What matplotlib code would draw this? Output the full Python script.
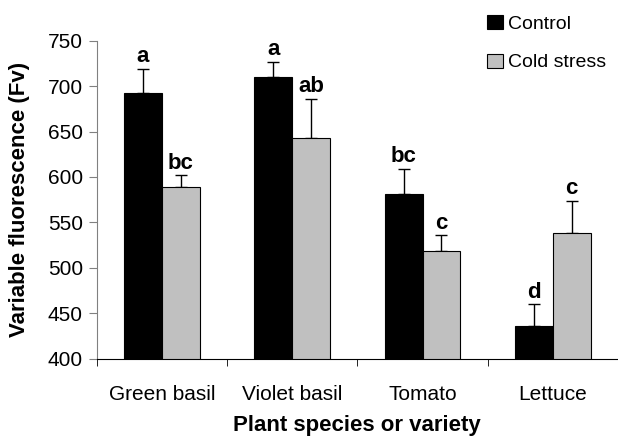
import matplotlib
matplotlib.use("Agg")
import matplotlib.pyplot as plt
import numpy as np

categories = ["Green basil", "Violet basil", "Tomato", "Lettuce"]
control = [692, 710, 581, 436]
control_err = [27, 17, 28, 24]
cold = [589, 643, 518, 538]
cold_err = [13, 43, 18, 36]
control_letters = ["a", "a", "bc", "d"]
cold_letters = ["bc", "ab", "c", "c"]

plt.rcParams['font.family'] = ['Liberation Sans', 'DejaVu Sans']

fig = plt.figure(figsize=(6.18, 4.38), dpi=100)
ax = fig.add_axes([96.7/618, 1-358.7/438, 1-96.7/618, (358.7-40.7)/438])

x = np.arange(len(categories))
w = 0.29
b1 = ax.bar(x - w/2, control, w, color='black', edgecolor='black', linewidth=0.8,
            label='Control', zorder=2)
b2 = ax.bar(x + w/2, cold, w, color='#C0C0C0', edgecolor='black', linewidth=0.8,
            label='Cold stress', zorder=2)
ax.errorbar(x - w/2, control, yerr=[np.zeros(4), control_err], fmt='none',
            ecolor='black', elinewidth=1, capsize=4, capthick=1, zorder=1)
ax.errorbar(x + w/2, cold, yerr=[np.zeros(4), cold_err], fmt='none',
            ecolor='black', elinewidth=1, capsize=4, capthick=1, zorder=1)

for xi, v, e, t in zip(x - w/2, control, control_err, control_letters):
    ax.annotate(t, (xi, v + e), xytext=(0, 1), textcoords='offset points',
                ha='center', va='bottom', fontsize=16, fontweight='bold')
for xi, v, e, t in zip(x + w/2, cold, cold_err, cold_letters):
    ax.annotate(t, (xi, v + e), xytext=(0, 1), textcoords='offset points',
                ha='center', va='bottom', fontsize=16, fontweight='bold')

ax.set_xlim(-0.5, 3.5)
ax.set_ylim(400, 750)
ax.set_yticks([400, 450, 500, 550, 600, 650, 700, 750])
ax.set_xticks(x)
ax.set_xticklabels(categories, fontsize=15)
ax.set_xticks([-0.5, 0.5, 1.5, 2.5], minor=True)
ax.tick_params(axis='x', which='major', length=0, pad=19)
ax.tick_params(axis='x', which='minor', length=5, direction='out', color='black')
ax.tick_params(axis='y', labelsize=15, length=6, direction='out', color='#808080', pad=4)

ax.spines['top'].set_visible(False)
ax.spines['right'].set_visible(False)
ax.spines['left'].set_color('#808080')
ax.spines['bottom'].set_color('black')

ax.set_ylabel('Variable fluorescence (Fv)', fontsize=16, fontweight='bold', va='center')
ax.yaxis.set_label_coords((20 - 96.7) / 521.3, 0.5)
ax.set_xlabel('Plant species or variety', fontsize=16, fontweight='bold', va='center')
ax.xaxis.set_label_coords(0.5, -(425 - 358.7) / 318)

fig.legend(handles=[b1, b2], labels=['Control', 'Cold stress'],
           loc='upper left', bbox_to_anchor=(487/618, 1-15/438), frameon=False,
           fontsize=14, handlelength=0.82, handleheight=0.72, handletextpad=0.25,
           labelspacing=1.08, borderpad=0, borderaxespad=0)

fig.savefig('out.png', dpi=100)
